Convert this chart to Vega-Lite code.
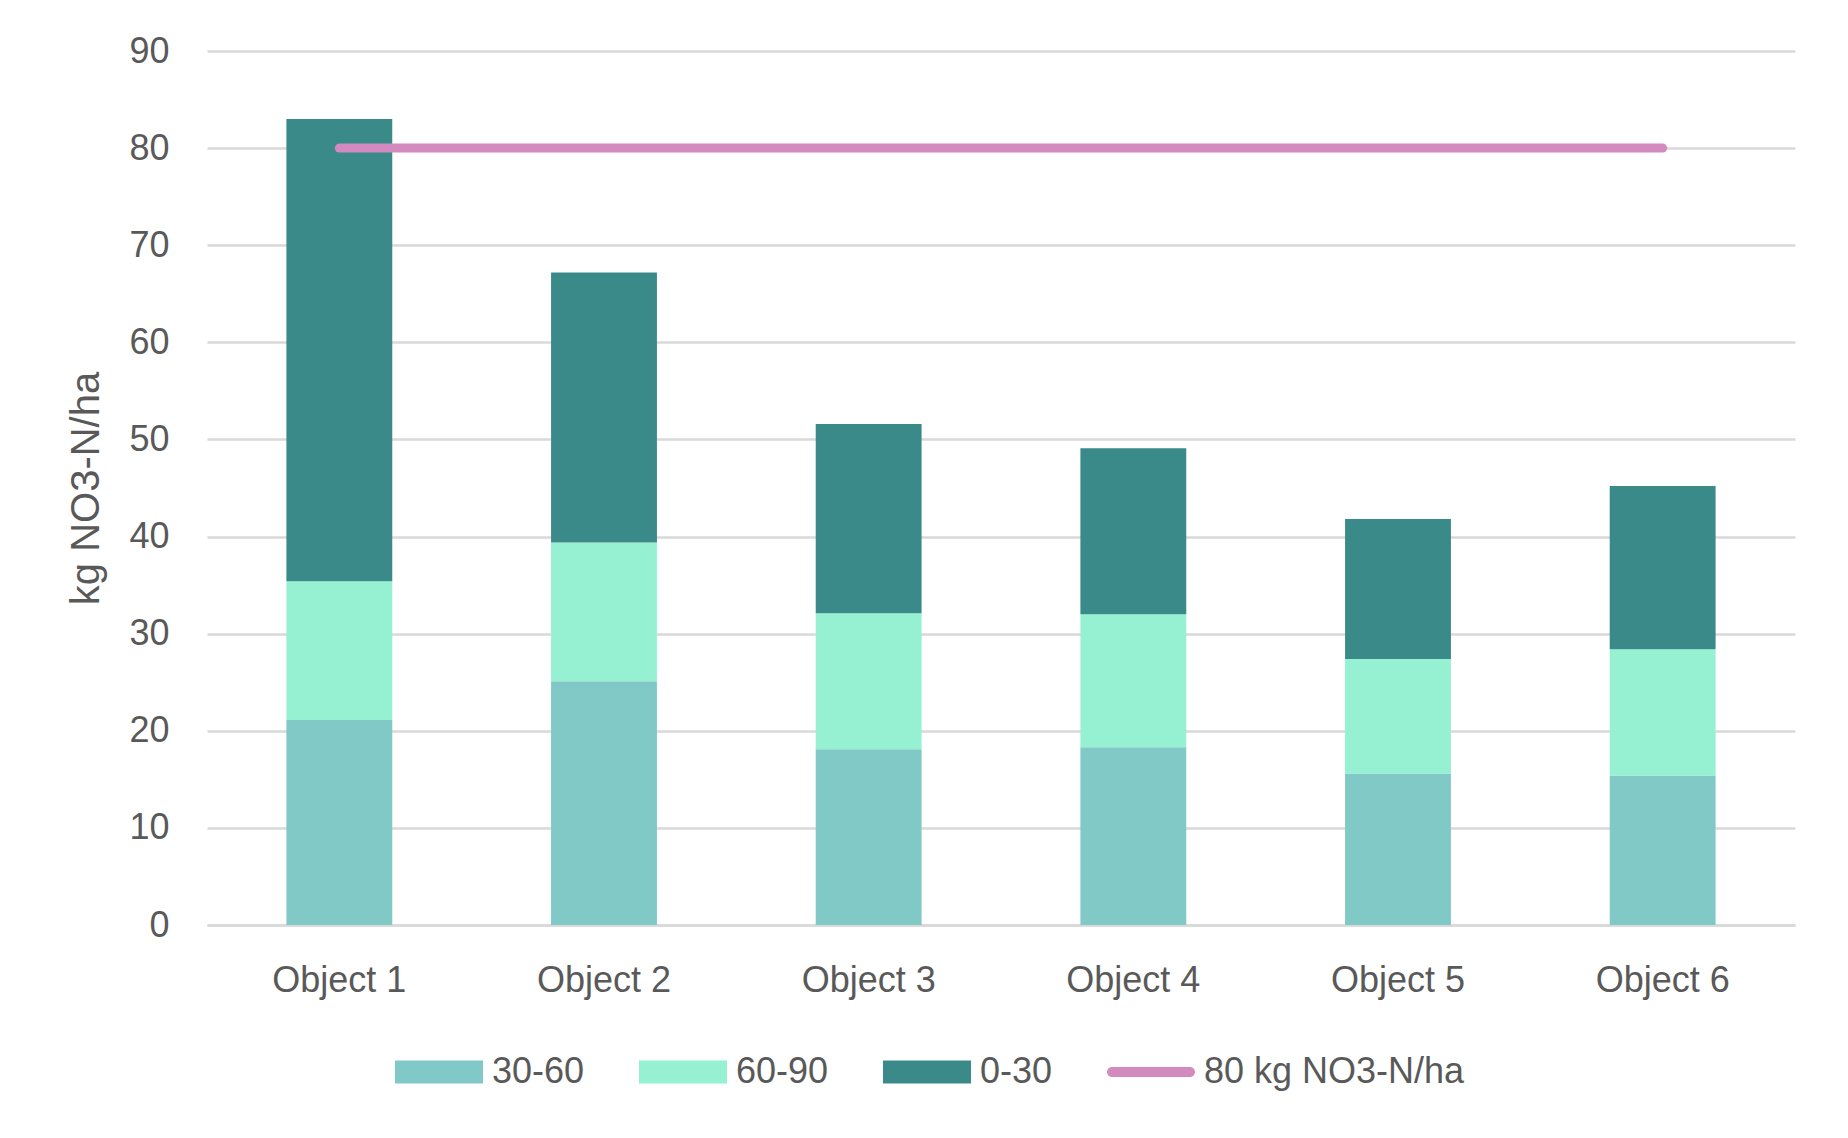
{
  "$schema": "https://vega.github.io/schema/vega-lite/v6.json",
  "width": 1588,
  "height": 874,
  "autosize": {"type": "none"},
  "padding": {"left": 207, "top": 51, "right": 53, "bottom": 213},
  "background": "white",
  "config": {
    "view": {"stroke": null},
    "font": "Liberation Sans",
    "axis": {"labelColor": "#595959", "titleColor": "#595959", "labelFontSize": 36, "titleFontSize": 40, "titleFontWeight": "normal", "labelFont": "Liberation Sans", "titleFont": "Liberation Sans"},
    "legend": {"labelColor": "#595959", "labelFontSize": 36, "labelFont": "Liberation Sans"}
  },
  "datasets": {
    "bars": [
      {"object": "Object 1", "series": "30-60", "ord": 1, "value": 21.1},
      {"object": "Object 1", "series": "60-90", "ord": 2, "value": 14.3},
      {"object": "Object 1", "series": "0-30", "ord": 3, "value": 47.6},
      {"object": "Object 2", "series": "30-60", "ord": 1, "value": 25.1},
      {"object": "Object 2", "series": "60-90", "ord": 2, "value": 14.3},
      {"object": "Object 2", "series": "0-30", "ord": 3, "value": 27.8},
      {"object": "Object 3", "series": "30-60", "ord": 1, "value": 18.1},
      {"object": "Object 3", "series": "60-90", "ord": 2, "value": 14.0},
      {"object": "Object 3", "series": "0-30", "ord": 3, "value": 19.5},
      {"object": "Object 4", "series": "30-60", "ord": 1, "value": 18.3},
      {"object": "Object 4", "series": "60-90", "ord": 2, "value": 13.7},
      {"object": "Object 4", "series": "0-30", "ord": 3, "value": 17.1},
      {"object": "Object 5", "series": "30-60", "ord": 1, "value": 15.6},
      {"object": "Object 5", "series": "60-90", "ord": 2, "value": 11.8},
      {"object": "Object 5", "series": "0-30", "ord": 3, "value": 14.4},
      {"object": "Object 6", "series": "30-60", "ord": 1, "value": 15.4},
      {"object": "Object 6", "series": "60-90", "ord": 2, "value": 13.0},
      {"object": "Object 6", "series": "0-30", "ord": 3, "value": 16.8}
    ],
    "limit": [
      {"object": "Object 1", "series": "80 kg NO3-N/ha", "value": 80},
      {"object": "Object 2", "series": "80 kg NO3-N/ha", "value": 80},
      {"object": "Object 3", "series": "80 kg NO3-N/ha", "value": 80},
      {"object": "Object 4", "series": "80 kg NO3-N/ha", "value": 80},
      {"object": "Object 5", "series": "80 kg NO3-N/ha", "value": 80},
      {"object": "Object 6", "series": "80 kg NO3-N/ha", "value": 80}
    ]
  },
  "encoding": {
    "x": {
      "field": "object", "type": "nominal",
      "scale": {"paddingInner": 0.6, "paddingOuter": 0.3},
      "axis": {"title": null, "labelAngle": 0, "ticks": false, "labelPadding": 38, "domainColor": "#D9D9D9", "domainWidth": 2.7, "grid": false}
    },
    "y": {
      "field": "value", "type": "quantitative",
      "scale": {"domain": [0, 90], "nice": false},
      "axis": {"title": "kg NO3-N/ha", "values": [0, 10, 20, 30, 40, 50, 60, 70, 80, 90], "ticks": false, "domain": false, "gridColor": "#D9D9D9", "gridWidth": 2.7, "labelPadding": 38, "titlePadding": 22}
    }
  },
  "layer": [
    {
      "data": {"name": "bars"},
      "mark": {"type": "bar"},
      "encoding": {
        "y": {"field": "value", "type": "quantitative", "stack": "zero"},
        "order": {"field": "ord", "type": "quantitative"},
        "color": {
          "field": "series", "type": "nominal",
          "scale": {"domain": ["30-60", "60-90", "0-30", "80 kg NO3-N/ha"], "range": ["#80C9C7", "#96F0D2", "#3A8A89", "#D38ABF"]},
          "legend": {
            "title": null, "orient": "none", "direction": "horizontal", "legendX": 188, "legendY": 977,
            "symbolSize": 7744, "symbolType": "M-1,-0.26H1V0.26H-1Z", "labelOffset": 9, "columnPadding": 54,
            "labelLimit": 0,
            "symbolStrokeWidth": 0,
            "encode": {
              "symbols": {"update": {
                "shape": {"signal": "datum.label === '80 kg NO3-N/ha' ? 'M-0.886,-0.114H0.886A0.114,0.114 0 0 1 0.886,0.114H-0.886A0.114,0.114 0 0 1 -0.886,-0.114Z' : 'M-1,-0.26H1V0.26H-1Z'"},
                "fill": {"signal": "scale('color', datum.value)"},
                "strokeWidth": {"value": 0},
                "opacity": {"value": 1}
              }}
            }
          }
        }
      }
    },
    {
      "data": {"name": "limit"},
      "mark": {"type": "line", "color": "#D38ABF", "strokeWidth": 9, "strokeCap": "round"},
      "encoding": {}
    }
  ]
}
